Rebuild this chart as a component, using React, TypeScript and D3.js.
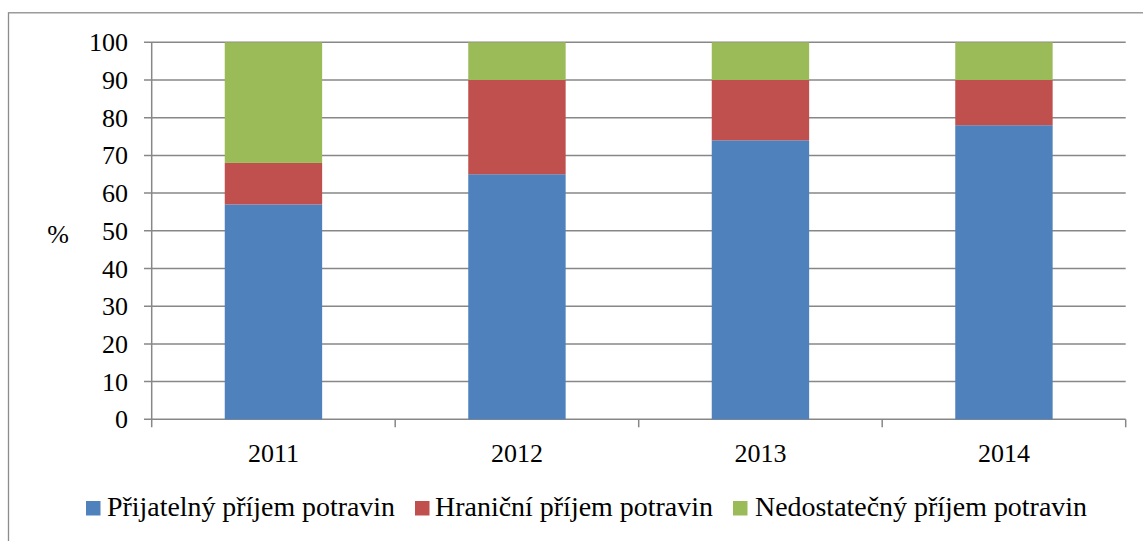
import React from "react";
import * as d3 from "d3";

const years = ["2011", "2012", "2013", "2014"];
const seriesNames = ["Přijatelný příjem potravin", "Hraniční příjem potravin", "Nedostatečný příjem potravin"];
const acceptable = [57, 65, 74, 78];
const borderline = [11, 25, 16, 12];
const insufficient = [32, 10, 10, 10];
const yTicks = [0, 10, 20, 30, 40, 50, 60, 70, 80, 90, 100];
const colors = ["#4F81BD", "#C0504D", "#9BBB59"];

const W = 1143;
const H = 541;
const left = 151.7;
const right = 1125.7;
const top = 42.3;
const bottom = 419.3;
const font = "Liberation Serif";

export default function App() {
  const x = d3.scaleBand<string>().domain(years).range([left, right]).paddingInner(0.6).paddingOuter(0.3);
  const y = d3.scaleLinear().domain([0, 100]).range([bottom, top]);
  const table = years.map((yr, i) => ({ year: yr, a: acceptable[i], b: borderline[i], c: insufficient[i] }));
  const stacked = d3.stack<any>().keys(["a", "b", "c"])(table);
  const step = x.step();
  const grid = "#878787";
  const t26 = { fontFamily: font, fontSize: "26px" };
  const t28 = { fontFamily: font, fontSize: "28px" };

  const legendX = [86, 415, 733];
  const legendTextX = [107, 435, 755];
  const legendTextW = [288, 278, 332];

  return (
    <svg width={W} height={H} style={{ position: "absolute", left: 0, top: 0, background: "#fff", fontFamily: font }}>
      <rect x={8.5} y={12.8} width={W + 10} height={H + 10} fill="none" stroke="#8c8c8c" strokeWidth={1.3} />
      {yTicks.map((t) => (
        <g key={t}>
          <line x1={144} x2={right} y1={y(t)} y2={y(t)} stroke={grid} strokeWidth={1.5} />
          <text x={128} y={y(t) + 9} textAnchor="end" fill="#000" style={t26}>
            {t}
          </text>
        </g>
      ))}
      <line x1={left} x2={left} y1={top} y2={bottom + 8} stroke={grid} strokeWidth={1.5} />
      {years.map((yr, i) => (
        <line key={yr} x1={left + step * (i + 1)} x2={left + step * (i + 1)} y1={bottom} y2={bottom + 8} stroke={grid} strokeWidth={1.5} />
      ))}
      {stacked.map((s, si) =>
        s.map((d: any) => (
          <rect
            key={si + "-" + d.data.year}
            x={x(d.data.year)}
            y={y(d[1])}
            width={x.bandwidth()}
            height={y(d[0]) - y(d[1])}
            fill={colors[si]}
          />
        ))
      )}
      {years.map((yr) => (
        <text key={yr} x={(x(yr) as number) + x.bandwidth() / 2} y={462} textAnchor="middle" fill="#000" style={t26}>
          {yr}
        </text>
      ))}
      <text x={58} y={243} textAnchor="middle" fill="#000" style={t26}>
        %
      </text>
      {seriesNames.map((n, i) => (
        <g key={n}>
          <rect x={legendX[i]} y={501} width={14.5} height={14.5} fill={colors[i]} />
          <text
            x={legendTextX[i]}
            y={516}
            fill="#000"
            style={t28}
            textLength={legendTextW[i]}
            lengthAdjust="spacingAndGlyphs"
          >
            {n}
          </text>
        </g>
      ))}
    </svg>
  );
}
